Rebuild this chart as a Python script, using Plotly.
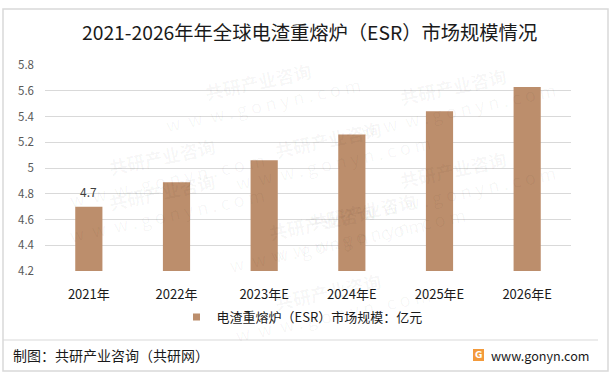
import plotly.graph_objects as go

categories = ["2021年", "2022年", "2023年E", "2024年E", "2025年E", "2026年E"]
values = [4.70, 4.89, 5.06, 5.26, 5.44, 5.63]
label_flags = [True, False, False, False, False, False]
series_name = "电渣重熔炉（ESR）市场规模：亿元"
title_text = "2021-2026年年全球电渣重熔炉（ESR）市场规模情况"
y_ticks = [4.2, 4.4, 4.6, 4.8, 5.0, 5.2, 5.4, 5.6, 5.8]
y_tick_text = ["4.2", "4.4", "4.6", "4.8", "5", "5.2", "5.4", "5.6", "5.8"]
footer_left = "制图：共研产业咨询（共研网）"
footer_right = "www.gonyn.com"

W, H = 615, 377
L, R, T, B = 45, 44, 65, 106
PW, PH = W - L - R, H - T - B
FONT = "Noto Sans CJK SC, Microsoft YaHei, sans-serif"
BAR = "#BC8E6C"

def px_x(x):
    return (x - L) / PW

def px_y(y):
    return (H - B - y) / PH

fig = go.Figure()
fig.add_trace(go.Bar(
    x=categories, y=values, name=series_name,
    marker=dict(color=BAR, line=dict(width=0)),
    showlegend=False, hoverinfo="skip",
))
fig.add_trace(go.Scatter(
    x=[None], y=[None], mode="markers", name=series_name,
    marker=dict(symbol="square", size=7, color=BAR),
    showlegend=True,
))

annotations = []
for c, v, f in zip(categories, values, label_flags):
    if f:
        annotations.append(dict(x=c, y=v, xref="x", yref="y", text=f"{v:g}",
                                showarrow=False, yanchor="bottom", yshift=5,
                                font=dict(size=12, color="#404040", family=FONT)))

shapes = []
shapes.append(dict(type="rect", xref="paper", yref="paper",
                   x0=px_x(3), x1=px_x(608), y0=px_y(371), y1=px_y(9),
                   line=dict(color="#D9D9D9", width=1.5), layer="below"))
shapes.append(dict(type="line", xref="paper", yref="paper",
                   x0=px_x(3), x1=px_x(598), y0=px_y(340), y1=px_y(340),
                   line=dict(color="#D9D9D9", width=1)))
shapes.append(dict(type="rect", xref="paper", yref="paper",
                   x0=px_x(473), x1=px_x(484), y0=px_y(361), y1=px_y(349),
                   fillcolor="#F39A3B", line=dict(width=0)))

annotations += [
    dict(text=title_text, xref="paper", yref="paper", x=px_x(309), y=px_y(32),
         showarrow=False, xanchor="center", yanchor="middle",
         font=dict(size=19.3, color="#1a1a1a", family=FONT)),
    dict(text=footer_left, xref="paper", yref="paper", x=px_x(11), y=px_y(355),
         showarrow=False, xanchor="left", yanchor="middle",
         font=dict(size=14, color="#1a1a1a", family=FONT)),
    dict(text=footer_right, xref="paper", yref="paper", x=px_x(489), y=px_y(355),
         showarrow=False, xanchor="left", yanchor="middle",
         font=dict(size=12.6, color="#1a1a1a", family=FONT)),
    dict(text="<b>G</b>", xref="paper", yref="paper", x=px_x(478.5), y=px_y(355),
         showarrow=False, xanchor="center", yanchor="middle",
         font=dict(size=9, color="white", family="DejaVu Sans")),
]

wm_positions = [(60, 120), (260, 45), (560, 50), (330, 150), (60, 250),
                (220, 280), (470, 270), (330, 350), (560, 180)]
for (wx, wy) in wm_positions:
    annotations.append(dict(text="<b>共研产业咨询</b><br>w  w  w . g o n y n . c o m",
                            xref="paper", yref="paper", x=px_x(wx), y=px_y(wy),
                            showarrow=False, textangle=-12,
                            font=dict(size=18, color="rgba(0,0,0,0.04)", family=FONT)))

fig.update_layout(
    width=W, height=H,
    margin=dict(l=L, r=R, t=T, b=B, pad=0),
    paper_bgcolor="white", plot_bgcolor="rgba(0,0,0,0)",
    bargap=0.69,
    font=dict(family=FONT, color="#595959"),
    xaxis=dict(showgrid=False, showline=False, zeroline=False, ticks="",
               tickfont=dict(size=13, color="#1a1a1a", family=FONT),
               ticklabelstandoff=14),
    yaxis=dict(range=[4.2, 5.8], tickvals=y_ticks, ticktext=y_tick_text,
               showgrid=True, gridcolor="#D9D9D9", gridwidth=1, zeroline=False,
               showline=False, ticks="", ticklabelstandoff=10,
               tickfont=dict(size=11.5, color="#595959", family=FONT)),
    legend=dict(orientation="h", xref="paper", yref="paper",
                x=0.5 - 6 / PW, xanchor="center", y=px_y(317), yanchor="middle",
                font=dict(size=13, color="#1a1a1a", family=FONT),
                bgcolor="rgba(0,0,0,0)"),
    shapes=shapes, annotations=annotations,
)

fig.write_html("out.html", config={"displayModeBar": False},
               post_script="document.body.style.margin='0';document.body.style.overflow='hidden';")
